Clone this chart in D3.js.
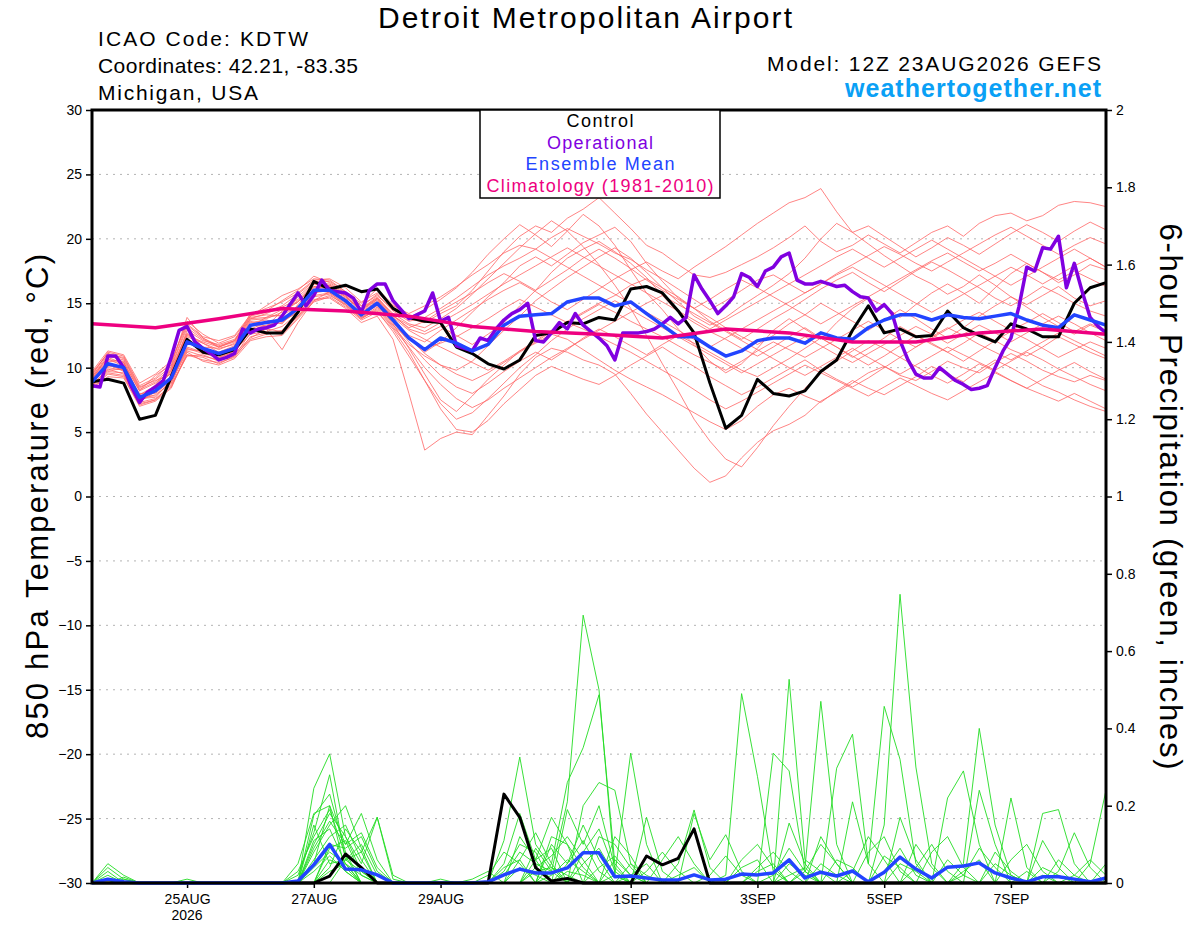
<!DOCTYPE html>
<meta charset="utf-8">
<script src="https://d3js.org/d3.v7.min.js"></script>
<style>
  body { margin: 0; background: #fff; }
  text { font-family: "Liberation Sans", Arial, sans-serif; }
</style>
<svg id="chart" width="1200" height="927"></svg>
<script>

// run start and time steps (6-hourly ensemble, 3-hourly operational)
const runStart = Date.UTC(2026, 7, 23, 12)
const runEnd = Date.UTC(2026, 8, 8, 12)
const tickDays = [[2026,7,25,"25AUG"],[2026,7,27,"27AUG"],[2026,7,29,"29AUG"],[2026,8,1,"1SEP"],
                  [2026,8,3,"3SEP"],[2026,8,5,"5SEP"],[2026,8,7,"7SEP"]]
const tempTicks = [-30,-25,-20,-15,-10,-5,0,5,10,15,20,25,30]
const precipTicks = [0,0.2,0.4,0.6,0.8,1,1.2,1.4,1.6,1.8,2]

// 850 hPa temperature (C)
const controlTemp = [8.9,9.1,8.8,6.0,6.3,9.3,12.2,11.2,11.0,11.4,13.0,12.7,12.7,
  14.3,16.7,16.1,16.4,15.9,16.1,14.6,13.9,13.6,13.5,11.6,11.1,10.3,
  9.9,10.6,12.5,12.7,13.5,13.4,13.9,13.7,16.1,16.3,15.8,14.4,12.7,
  8.8,5.3,6.3,9.1,8.0,7.8,8.2,9.7,10.6,12.9,14.8,12.7,13.0,
  12.4,12.5,14.4,13.1,12.5,12.0,13.4,13.0,12.4,12.4,15.0,16.2,16.6]

const meanTemp = [8.9,10.3,10.0,7.7,8.2,9.2,12.0,11.5,11.1,11.5,13.3,13.5,13.7,
  14.6,16.0,16.0,15.2,14.1,15.0,13.7,12.3,11.4,12.3,11.9,11.3,11.8,
  13.3,14.0,14.1,14.2,15.1,15.4,15.4,14.8,15.1,14.2,13.3,12.4,12.4,
  11.6,10.9,11.3,12.1,12.3,12.3,11.9,12.7,12.3,12.2,13.1,13.7,14.1,
  14.1,13.7,14.1,13.9,13.8,14.0,14.2,13.7,13.3,13.1,14.1,13.7,13.3]

const operationalTemp = [8.6,8.5,10.9,10.9,10.0,8.5,7.3,8.1,8.5,9.0,10.8,12.9,13.2,12.0,11.5,11.1,
  10.6,10.8,11.1,13.0,12.7,13.0,13.1,13.3,14.0,14.9,15.8,14.8,15.6,16.8,16.0,15.9,
  15.8,15.4,14.3,16.0,16.5,16.5,15.2,14.5,13.8,14.1,14.4,15.8,13.6,13.9,11.7,11.5,
  11.3,12.3,12.1,13.0,13.7,14.2,14.5,15.0,12.1,12.0,12.7,13.5,13.0,14.2,13.3,12.8,
  12.3,11.7,10.6,12.7,12.7,12.7,12.8,13.0,13.4,13.9,13.4,13.9,17.2,16.1,15.2,14.2,
  14.8,15.5,17.3,17.0,16.3,17.5,17.8,18.6,18.9,16.8,16.5,16.5,16.7,16.5,16.3,16.4,
  15.9,15.5,15.4,14.4,14.9,14.2,12.1,10.6,9.5,9.2,9.2,10.0,9.5,9.0,8.7,8.3,
  8.4,8.6,10.0,11.3,12.3,14.7,17.8,17.5,19.3,19.2,20.2,16.2,18.1,15.9,13.9,13.2,
  12.7]

// daily climatology at 12Z
const climoTemp = [13.4,13.1,13.8,14.6,14.4,14.0,13.2,12.8,12.6,12.3,13.0,12.7,12.0,12.0,12.7,13.0,12.6]

const memberTemps = [
 [9.4,11.2,10.9,8.6,9.2,10.4,13.6,12.6,11.9,12.4,14.0,14.8,15.6,16.1,16.9,16.8,
  15.9,14.8,15.6,14.5,13.8,13.5,14.2,14.8,16.0,17.5,19.0,20.2,21.0,20.5,21.6,22.3,
  23.2,22.0,20.8,19.5,18.9,18.0,17.2,17.0,17.4,18.0,18.6,19.3,20.1,21.0,19.8,19.0,
  19.5,20.3,19.6,18.9,19.7,20.5,21.0,20.2,21.2,21.8,22.0,21.4,21.8,22.6,22.9,22.8,22.5],
 [8.5,9.6,9.4,7.3,7.6,8.6,11.0,10.8,10.3,10.9,12.2,12.6,12.9,14.0,15.3,15.4,
  14.6,13.5,14.0,12.2,8.0,3.6,4.5,5.0,4.8,6.3,7.8,9.5,10.8,11.5,11.2,10.6,
  10.2,9.5,8.0,6.4,5.0,3.6,2.2,1.1,1.6,3.0,4.2,5.1,5.6,6.3,7.4,8.1,
  8.8,9.6,10.1,9.4,9.0,9.7,10.5,10.0,9.6,10.4,11.1,10.5,9.8,9.3,8.9,9.4,9.0],
 [9.6,11.1,10.4,8.2,9.4,10.2,13.9,12.3,11.6,12.1,14.2,14.4,15.2,16.0,17.1,16.6,
  15.8,15.0,16.1,14.9,13.9,14.5,15.3,16.2,17.4,18.8,20.0,21.1,20.3,19.4,20.6,21.9,
  21.0,19.5,17.6,15.8,14.5,13.0,11.8,10.5,9.6,10.3,11.5,12.9,13.8,13.0,12.2,13.5,
  14.6,15.4,14.8,13.9,14.9,15.8,16.5,15.8,15.0,16.2,17.3,18.1,17.4,16.6,17.2,18.0,17.6],
 [8.7,9.8,9.9,7.8,7.8,8.9,11.4,11.3,11.0,11.3,12.6,12.8,13.2,14.2,15.6,15.8,
  14.9,13.8,14.6,13.2,11.8,10.9,10.2,9.8,10.5,11.7,12.9,14.0,15.2,16.1,17.0,17.8,
  18.6,19.3,18.5,17.4,16.2,15.1,14.0,13.3,13.9,14.8,15.6,16.4,17.3,18.5,20.0,21.2,
  20.5,19.6,18.7,17.9,17.1,16.5,15.7,16.3,17.2,16.4,15.5,14.9,15.6,16.3,15.4,14.8,15.2],
 [9.1,10.6,10.5,7.5,8.7,9.9,12.7,11.6,11.5,11.8,13.6,13.2,14.4,15.2,16.2,16.3,
  15.5,14.4,15.3,13.8,12.4,11.2,12.0,13.1,14.3,15.5,16.6,17.9,18.6,17.9,18.8,19.7,
  20.3,20.9,19.8,18.1,16.7,15.4,14.6,13.9,13.1,12.4,11.8,12.5,13.4,14.1,15.0,14.3,
  13.6,12.9,13.7,14.5,13.8,13.0,12.3,13.1,14.0,14.8,15.5,14.7,13.9,13.2,12.6,13.3,12.8],
 [8.6,9.9,9.5,7.2,7.5,8.7,10.9,11.0,10.5,11.1,12.3,13.0,11.4,13.5,15.2,15.9,
  15.1,14.0,14.9,13.4,11.5,9.5,7.5,6.6,7.8,9.1,10.2,11.3,11.9,12.6,12.2,11.4,
  10.6,9.8,9.1,8.5,7.9,7.2,6.5,5.8,5.2,5.9,7.0,7.9,8.4,7.8,7.3,8.2,
  9.0,8.4,7.9,8.6,9.3,10.1,9.5,8.9,9.8,10.6,10.0,9.3,8.6,8.1,7.5,7.0,6.6],
 [9.3,11.0,10.8,8.5,9.0,9.5,12.9,12.1,11.8,12.2,13.9,14.1,14.0,15.5,16.6,16.2,
  15.4,14.6,15.5,14.1,13.0,12.6,13.2,12.5,11.8,12.6,13.5,14.8,16.0,17.4,18.5,19.2,
  19.8,19.0,18.1,17.0,15.6,14.3,13.5,12.8,12.2,11.5,10.9,11.6,12.4,13.1,12.3,11.6,
  10.8,11.5,12.3,13.2,12.5,11.8,11.2,11.9,12.7,12.1,11.4,10.9,11.6,12.4,11.8,11.2,10.7],
 [8.9,10.2,9.8,7.9,8.4,9.6,12.4,11.9,11.2,11.7,13.5,13.7,13.4,14.9,16.3,16.1,
  15.3,14.2,15.1,13.6,12.5,12.0,12.9,13.7,14.5,15.3,16.0,16.6,15.9,15.1,14.5,15.3,
  16.1,16.9,17.6,18.2,17.5,16.9,17.8,18.6,19.4,20.3,21.2,22.0,22.8,23.2,23.9,22.1,
  20.5,21.0,20.2,19.4,18.6,19.3,20.1,19.5,18.8,19.6,20.4,21.1,20.5,19.8,20.6,21.3,20.7],
 [9.2,10.7,10.1,7.4,8.1,9.8,12.0,11.4,10.8,11.4,13.2,13.9,14.1,14.7,16.0,16.4,
  15.6,14.3,15.2,13.9,12.9,12.2,11.6,11.0,10.4,9.8,10.5,11.3,12.1,12.9,13.6,14.3,
  15.0,15.6,16.4,16.9,16.2,15.5,14.6,13.6,12.9,12.2,13.0,13.8,14.5,15.3,16.1,16.8,
  17.4,16.6,15.9,16.7,17.5,18.2,17.6,16.9,16.2,15.4,14.8,15.5,16.3,15.7,15.0,14.4,14.0],
 [8.4,9.3,9.2,7.0,7.4,8.4,11.2,10.5,10.2,10.7,12.1,12.4,12.5,13.8,15.1,15.5,
  14.7,13.7,14.3,13.0,11.2,9.0,6.8,5.2,5.0,5.9,7.2,8.3,9.4,10.1,9.6,9.1,
  8.7,9.4,10.2,10.9,11.6,10.8,10.1,9.3,8.6,7.9,8.5,9.2,9.9,10.6,9.8,9.1,
  8.5,9.2,10.0,10.8,10.1,9.4,8.8,9.5,10.3,9.7,9.0,8.4,9.1,9.8,10.4,9.7,9.1],
 [9.7,11.3,11.0,8.8,9.5,10.5,13.4,12.4,12.1,12.5,14.1,14.6,15.1,15.8,16.8,16.9,
  16.2,15.1,15.8,14.8,14.2,14.8,15.5,16.3,17.2,18.0,18.9,19.5,19.2,20.1,20.8,20.2,
  19.6,18.9,18.4,17.6,16.9,16.1,15.3,14.5,15.2,16.0,16.8,17.2,16.5,15.8,16.5,17.3,
  18.0,18.7,19.4,18.8,18.1,17.5,18.2,18.9,19.6,20.3,20.9,20.2,19.5,18.8,19.5,20.1,19.6],
 [9.0,10.1,10.2,7.6,8.5,9.2,12.1,11.5,11.1,11.6,13.0,13.5,13.6,14.3,15.8,16.0,
  15.2,14.1,14.8,13.5,12.0,10.6,9.4,8.5,8.0,8.8,9.7,10.5,11.2,10.6,11.4,12.3,
  13.0,12.4,11.7,11.0,11.8,12.5,11.9,11.2,10.5,9.8,9.3,10.0,10.7,11.5,12.3,11.6,
  10.9,10.2,10.9,11.7,12.5,11.9,11.2,10.5,11.3,12.1,12.8,12.2,11.5,10.8,11.4,12.0,11.5],
 [8.8,10.4,9.7,8.0,8.0,9.0,11.6,11.2,10.7,11.3,13.3,13.2,13.8,14.8,16.1,15.8,
  15.0,13.9,14.7,13.3,12.2,11.5,11.9,12.4,13.1,13.8,14.6,15.3,14.7,14.1,13.5,14.2,
  14.9,14.3,13.6,13.0,12.4,11.7,11.0,10.4,9.8,10.5,11.3,12.0,11.4,10.8,11.5,12.2,
  12.9,13.6,12.9,12.2,11.6,12.3,13.0,13.7,14.3,13.6,12.9,13.5,14.2,13.5,12.8,13.4,12.9],
 [9.1,10.9,10.6,8.3,8.9,10.0,13.1,12.2,11.6,12.0,13.8,14.2,14.7,15.3,16.5,16.5,
  15.7,14.6,15.4,14.2,13.4,13.1,13.8,14.6,15.7,16.9,18.1,19.3,20.4,21.4,20.6,19.4,
  18.0,16.4,14.6,12.5,10.3,8.2,6.0,4.3,2.9,2.3,3.8,5.5,7.0,8.4,9.6,10.5,
  11.3,12.1,11.5,10.8,11.6,12.4,13.1,12.5,11.8,11.2,10.6,11.3,12.0,12.7,12.1,11.5,10.9],
 [8.6,9.7,9.6,7.5,7.9,8.8,11.3,10.9,10.6,10.9,12.7,13.0,12.8,14.0,15.5,15.7,
  14.8,13.8,14.5,13.1,11.6,10.0,8.7,7.6,6.9,7.5,8.4,9.2,10.0,10.8,11.5,12.2,
  12.9,13.6,14.3,15.0,15.6,14.9,14.2,13.5,12.8,12.1,11.4,10.7,10.0,9.4,10.1,10.8,
  11.5,10.8,10.1,9.5,10.2,10.9,11.6,11.0,10.4,9.8,10.5,11.2,10.6,9.9,9.3,8.7,8.2],
 [9.3,10.8,10.3,7.9,8.6,9.7,12.6,11.9,11.4,11.9,13.7,13.8,14.3,15.1,16.3,16.4,
  15.6,14.5,15.4,14.0,13.1,13.6,14.4,15.1,15.8,16.6,17.3,16.7,16.0,16.8,17.6,18.5,
  19.2,18.5,17.7,16.8,16.0,15.3,14.6,15.3,16.1,16.8,16.2,15.5,14.8,14.1,13.4,14.1,
  14.8,15.5,16.2,16.9,17.6,18.3,18.9,18.2,17.5,18.1,18.8,18.1,17.4,16.8,17.5,16.9,16.3],
 [8.8,10.0,9.8,7.6,7.7,9.0,11.5,11.1,10.8,11.2,12.9,13.3,13.5,14.4,15.9,16.1,
  15.3,14.2,15.0,13.6,12.3,11.1,10.2,9.5,9.0,9.6,10.4,11.2,12.0,12.8,13.5,13.0,
  12.4,11.8,11.2,10.5,9.8,9.1,8.3,7.5,6.8,7.4,8.1,8.8,9.5,10.2,9.6,9.0,
  8.4,7.8,8.5,9.2,8.6,8.0,7.5,8.2,8.9,9.6,9.0,8.4,7.9,7.4,8.0,7.4,6.8],
 [9.5,11.1,10.7,8.4,9.1,10.1,13.3,12.3,11.7,12.1,14.0,14.3,14.8,15.7,16.7,16.7,
  15.9,14.8,15.7,14.4,13.6,13.9,14.6,15.4,16.3,17.2,17.9,18.5,19.2,18.5,17.8,17.1,
  16.4,15.7,15.0,14.3,13.6,12.9,12.2,11.6,12.3,13.0,13.7,14.4,15.1,15.8,16.5,17.2,
  17.8,17.1,16.4,15.7,15.0,14.3,15.0,15.7,16.4,17.1,17.8,17.2,16.5,17.2,17.9,18.5,17.8],
 [8.4,9.5,9.3,7.1,7.5,8.5,11.0,10.6,10.4,10.8,12.4,12.7,12.6,13.9,15.2,15.6,
  14.9,13.9,14.4,12.8,10.9,9.0,7.2,6.0,6.5,7.6,8.8,10.0,11.0,12.1,13.0,13.8,
  14.5,15.2,14.5,13.8,13.1,12.4,11.7,11.0,10.3,9.6,10.3,11.0,11.7,12.4,11.7,11.0,
  10.4,11.1,11.8,12.5,13.2,12.6,11.9,12.6,13.3,12.7,12.0,12.7,13.4,14.0,13.4,12.7,12.1],
 [9.0,10.5,10.4,8.2,8.8,9.8,12.5,12.0,11.6,12.1,13.8,13.9,14.5,15.1,16.5,16.3,
  15.5,14.5,15.3,14.0,13.3,12.8,13.5,14.2,14.9,15.7,16.5,17.2,17.9,18.6,19.3,18.6,
  17.9,17.2,16.5,15.8,15.1,14.4,13.7,13.0,13.7,14.4,15.1,15.8,16.5,17.2,17.9,18.6,
  19.2,18.5,17.8,18.5,19.2,19.9,19.2,18.5,17.8,17.1,16.4,17.1,17.8,18.5,19.2,18.5,17.8]
]

// 6-hour precipitation (inches)
const controlPrecip = [0,0,0,0,0,0,0,0,0,0,0,0,0,
  0,0,0.018,0.075,0.04,0,0,0,0,0,0,0,0,
  0.23,0.17,0.04,0.005,0.012,0,0,0,0,0.07,0.047,0.064,0.14,
  0,0,0,0,0,0,0,0,0,0,0,0,0,
  0,0,0,0,0,0,0,0,0,0,0,0,0]

const meanPrecip = [0,0.01,0.003,0,0,0,0,0,0,0,0,0,0,
  0.005,0.047,0.1,0.036,0.034,0.021,0,0,0,0,0,0,0.003,
  0.021,0.036,0.026,0.026,0.039,0.078,0.078,0.016,0.018,0.013,0.008,0.008,0.021,
  0.008,0.01,0.023,0.021,0.026,0.06,0.013,0.028,0.018,0.031,0.003,0.028,0.067,
  0.036,0.013,0.041,0.044,0.052,0.026,0.013,0.003,0.016,0.016,0.01,0.003,0.013]

const memberPrecips = [
 [0,0.05,0.02,0,0,0,0,0,0,0,0,0,0, 0,0.245,0.334,0.12,0.03,0,0,0,0,0,0,0,0,
  0.02,0.08,0.05,0.03,0.21,0.693,0.5,0.02,0,0,0,0,0, 0,0,0,0.03,0.05,0,0,0,0,0,0,0.15,0.747,
  0.3,0.05,0,0,0,0,0,0,0.02,0,0,0,0],
 [0,0.03,0,0,0,0,0,0,0,0,0,0,0, 0,0.175,0.23,0.08,0,0,0,0,0,0,0,0,0,
  0.11,0.326,0.1,0.04,0,0,0,0,0.02,0.05,0,0,0, 0,0.02,0.49,0.276,0.03,0,0,0,0,0,0,0,0,
  0,0,0,0.05,0.4,0.15,0.02,0,0,0,0,0,0],
 [0,0,0,0,0,0,0,0,0,0,0,0,0, 0.05,0.18,0.2,0.1,0.18,0.06,0,0,0,0,0,0,0,
  0,0,0,0.05,0.26,0.35,0.487,0.05,0,0,0,0,0, 0,0,0,0,0.336,0.29,0.03,0,0,0,0,0,0,
  0,0,0,0,0,0,0,0,0,0.03,0.13,0.04,0],
 [0,0,0.01,0,0,0,0,0,0,0,0,0,0, 0,0.1,0.18,0.12,0.05,0.17,0.01,0,0,0,0,0,0,
  0,0,0.06,0.17,0.1,0,0,0.02,0.336,0.1,0,0,0, 0,0,0,0,0,0.527,0.06,0.03,0,0,0,0,0,
  0,0,0,0,0,0,0.22,0.04,0,0,0,0,0],
 [0,0,0,0,0,0,0,0,0,0,0,0,0, 0,0.08,0.15,0.2,0.09,0,0,0,0,0,0,0,0,
  0,0.12,0.06,0.09,0,0.2,0.26,0.24,0.05,0,0,0,0, 0,0,0,0,0,0,0.04,0.47,0.1,0,0,0,0,
  0,0,0,0,0,0,0,0,0,0,0,0.05,0.24],
 [0,0,0,0,0,0,0,0,0,0,0,0,0, 0.02,0.13,0.28,0.06,0.03,0,0,0,0,0,0,0,0.02,
  0.08,0.05,0,0,0.19,0.1,0.2,0.04,0,0,0,0,0.18, 0.06,0.125,0.03,0,0,0,0,0,0.297,0.385,0.05,0,0,
  0,0,0.22,0.29,0.1,0,0,0,0,0,0,0,0],
 [0,0,0,0,0,0,0,0,0,0,0,0,0, 0,0.06,0.12,0.15,0.06,0,0,0,0,0,0,0,0,
  0,0,0.04,0.07,0.12,0.06,0,0,0,0.17,0.03,0,0, 0,0,0,0,0,0,0,0,0,0.21,0.05,0.457,0.32,
  0.05,0,0,0,0,0,0,0,0.18,0.19,0.05,0,0],
 [0,0,0,0,0,0,0,0,0,0,0,0,0, 0,0,0.1,0.09,0.12,0.03,0,0,0,0,0,0,0,
  0.03,0.1,0.08,0,0,0,0,0.12,0.07,0,0,0.05,0.189, 0.04,0,0,0,0,0.155,0.05,0,0,0,0,0,0.17,
  0.06,0,0,0,0.24,0.1,0,0,0.11,0.04,0,0,0],
 [0,0.02,0,0,0,0,0,0,0,0,0,0,0, 0,0.04,0.08,0.05,0,0,0,0,0,0.01,0,0,0,
  0,0,0,0.1,0.05,0.15,0.06,0,0,0,0.06,0.12,0.05, 0,0,0,0,0,0,0,0.12,0.05,0,0,0,0,
  0,0.08,0.12,0.04,0,0,0,0,0,0,0,0,0.05],
 [0,0,0,0,0,0,0,0,0,0,0,0,0, 0,0.15,0.05,0.06,0.1,0.02,0,0,0,0,0,0,0,
  0,0.06,0.13,0.05,0,0,0.12,0.1,0.04,0,0,0,0, 0,0,0.06,0.1,0.04,0,0,0,0,0,0.08,0.12,0.03,
  0,0,0,0,0,0,0.06,0.1,0.03,0,0,0,0],
 [0,0,0,0,0,0,0,0,0,0,0,0,0, 0,0,0.06,0.04,0,0,0,0,0,0,0,0,0,
  0,0,0.03,0.04,0.02,0,0,0,0,0.03,0.08,0.03,0, 0,0,0,0,0,0.05,0.02,0,0,0,0,0,0,
  0.1,0.04,0,0,0,0.05,0.02,0,0,0,0,0,0],
 [0,0,0,0,0,0,0,0,0,0,0,0,0, 0.03,0.12,0.19,0.07,0,0,0,0,0,0,0,0,0,
  0.05,0.18,0.06,0,0,0.08,0.14,0.03,0,0,0,0,0, 0,0,0,0.04,0.08,0.03,0,0,0,0,0,0,0,
  0,0,0,0.02,0.09,0.04,0,0,0,0,0,0,0],
 [0,0,0.015,0,0,0,0,0,0,0,0,0,0, 0,0,0.04,0.14,0.08,0,0,0,0,0,0,0,0,
  0,0,0,0,0.05,0.11,0.03,0,0,0,0,0,0, 0.02,0.07,0.02,0,0,0,0,0,0.06,0.04,0,0,0,
  0,0,0,0,0,0,0,0,0,0.06,0.02,0,0],
 [0,0,0,0,0,0,0,0,0,0,0,0,0, 0,0.09,0.16,0.1,0.13,0.04,0,0,0,0,0,0.01,0.03,
  0,0,0,0.12,0.1,0.04,0,0,0,0,0,0,0, 0,0,0,0,0,0,0.03,0.1,0.05,0,0,0.07,0.04,
  0,0,0,0,0,0,0,0.03,0,0,0,0,0],
 [0,0,0,0,0,0,0,0,0,0,0,0,0, 0,0.05,0.2,0.03,0,0,0,0,0,0,0,0,0,
  0,0.04,0.02,0,0,0,0,0.06,0.02,0,0,0,0, 0,0,0,0,0.02,0.09,0.03,0,0,0,0,0,0,
  0.04,0.1,0.03,0,0,0,0,0,0,0,0,0,0],
 [0,0,0,0,0,0,0,0,0,0,0,0,0, 0,0,0,0.06,0.08,0.17,0.02,0,0,0,0,0,0,
  0,0,0,0,0,0.05,0.09,0.02,0,0,0,0,0, 0,0,0,0,0,0,0,0,0,0.03,0.12,0.06,0,
  0,0,0,0.03,0.06,0,0,0,0,0,0,0,0],
 [0,0.04,0.01,0,0,0,0,0,0,0,0,0,0, 0,0.03,0.07,0.03,0,0,0,0,0,0,0,0,0,
  0,0,0,0.02,0.06,0.03,0,0,0,0,0,0.02,0.04, 0,0,0,0,0,0,0,0,0,0,0,0.03,0.09,
  0.02,0,0,0,0,0,0,0,0,0,0.02,0.06,0.02],
 [0,0,0,0,0,0,0,0,0,0,0,0,0, 0,0.11,0.14,0.05,0,0,0,0,0,0,0,0,0,
  0.04,0.06,0,0,0,0,0.04,0.07,0.02,0,0,0,0, 0,0,0,0,0,0,0,0.05,0.02,0,0,0,0,
  0,0,0.06,0.02,0,0,0,0,0,0,0,0,0],
 [0,0,0,0,0,0,0.01,0,0,0,0,0,0, 0,0,0.09,0.11,0.02,0,0,0,0,0,0,0,0,
  0,0,0.09,0.03,0,0,0,0,0.05,0.02,0,0,0, 0,0,0.04,0.06,0,0,0,0,0,0,0,0,0,
  0,0,0,0,0,0.08,0.03,0,0,0,0,0,0],
 [0,0,0,0,0,0,0,0,0,0,0,0,0, 0,0,0.03,0.05,0.02,0,0,0,0,0,0,0,0,
  0,0,0,0,0.03,0.02,0,0,0,0,0,0,0, 0,0,0,0,0,0.02,0.04,0,0,0,0,0,0.05,
  0.03,0,0,0,0,0,0,0,0.04,0.02,0,0,0]
]

const svg = d3.select("#chart")
const margin = {left: 92, right: 94, top: 110, bottom: 44}
const width = +svg.attr("width"), height = +svg.attr("height")

const x = d3.scaleUtc()
    .domain([runStart, runEnd])
    .range([margin.left, width - margin.right])
const yT = d3.scaleLinear().domain([-30, 30]).range([height - margin.bottom, margin.top])
const yP = d3.scaleLinear().domain([0, 2]).range([height - margin.bottom, margin.top])

const HOUR = 3600 * 1000
const at6 = i => runStart + i * 6 * HOUR
const at3 = i => runStart + i * 3 * HOUR
const atDay = i => runStart + i * 24 * HOUR

// grid
svg.append("g")
  .selectAll("line")
  .data(tempTicks.slice(1, -1))
  .join("line")
    .attr("x1", margin.left).attr("x2", width - margin.right)
    .attr("y1", d => yT(d)).attr("y2", d => yT(d))
    .attr("stroke", "#b4b4b4")
    .attr("stroke-dasharray", "2,5")

// axes
const axL = svg.append("g")
  .attr("transform", `translate(${margin.left},0)`)
  .call(d3.axisLeft(yT).tickValues(tempTicks).tickSize(6).tickPadding(4).tickFormat(d3.format("d")))
const axR = svg.append("g")
  .attr("transform", `translate(${width - margin.right},0)`)
  .call(d3.axisRight(yP).tickValues(precipTicks).tickSize(6).tickPadding(4).tickFormat(d => d3.format("~g")(d)))
const axB = svg.append("g")
  .attr("transform", `translate(0,${height - margin.bottom})`)
  .call(d3.axisBottom(x)
    .tickValues(tickDays.map(d => Date.UTC(d[0], d[1], d[2])))
    .tickFormat((d, i) => tickDays[i][3])
    .tickSize(5).tickPadding(6))
;[axL, axR, axB].forEach(a => {
  a.select(".domain").remove()
  a.selectAll(".tick line").attr("stroke", "#000").attr("stroke-width", 1.5)
  a.selectAll("text").attr("font-size", 14).attr("fill", "#000")
    .attr("font-family", '"Liberation Sans", Arial, sans-serif')
})
svg.append("text")
  .attr("x", x(Date.UTC(2026, 7, 25))).attr("y", 920)
  .attr("text-anchor", "middle").attr("font-size", 14)
  .text("2026")

// lines
const lineT6 = d3.line().x((d, i) => x(at6(i))).y(d => yT(d))
const lineT3 = d3.line().x((d, i) => x(at3(i))).y(d => yT(d))
const lineTd = d3.line().x((d, i) => x(atDay(i))).y(d => yT(d))
const lineP6 = d3.line().x((d, i) => x(at6(i))).y(d => yP(d))

const plot = svg.append("g").attr("fill", "none").attr("stroke-linejoin", "round")

plot.selectAll(".member-t")
  .data(memberTemps)
  .join("path")
    .attr("d", lineT6)
    .attr("stroke", "#ff6464")
    .attr("stroke-width", 0.8)

plot.selectAll(".member-p")
  .data(memberPrecips)
  .join("path")
    .attr("d", lineP6)
    .attr("stroke", "#22dd22")
    .attr("stroke-width", 0.9)

plot.append("path").attr("d", lineP6(controlPrecip)).attr("stroke", "#000").attr("stroke-width", 3)
plot.append("path").attr("d", lineP6(meanPrecip)).attr("stroke", "#2244ff").attr("stroke-width", 3.5)

plot.append("path").attr("d", lineT6(controlTemp)).attr("stroke", "#000").attr("stroke-width", 3)
plot.append("path").attr("d", lineT3(operationalTemp)).attr("stroke", "#8000e0").attr("stroke-width", 3.5)
plot.append("path").attr("d", lineT6(meanTemp)).attr("stroke", "#2244ff").attr("stroke-width", 3.5)
plot.append("path").attr("d", lineTd(climoTemp)).attr("stroke", "#ee0080").attr("stroke-width", 3.5)

// frame
svg.append("rect")
  .attr("x", margin.left).attr("y", margin.top)
  .attr("width", width - margin.left - margin.right)
  .attr("height", height - margin.top - margin.bottom)
  .attr("fill", "none").attr("stroke", "#000").attr("stroke-width", 3)

// legend
const legend = [["Control", "#000", 67], ["Operational", "#8000e0", 106],
                ["Ensemble Mean", "#2244ff", 149], ["Climatology (1981-2010)", "#ee0080", 227]]
svg.append("rect")
  .attr("x", 480).attr("y", 110).attr("width", 240).attr("height", 88)
  .attr("fill", "#fff").attr("stroke", "#000").attr("stroke-width", 1.5)
svg.selectAll(".leg")
  .data(legend)
  .join("text")
    .attr("x", 600).attr("y", (d, i) => 127 + i * 21.5)
    .attr("text-anchor", "middle").attr("font-size", 18)
    .attr("textLength", d => d[2]).attr("lengthAdjust", "spacing")
    .attr("fill", d => d[1])
    .text(d => d[0])

// titles
svg.append("text").attr("x", 585).attr("y", 28).attr("text-anchor", "middle")
  .attr("font-size", 30).attr("textLength", 414).attr("lengthAdjust", "spacing")
  .text("Detroit Metropolitan Airport")
const info = [["ICAO Code: KDTW", 210], ["Coordinates: 42.21, -83.35", 260], ["Michigan, USA", 160]]
svg.selectAll(".info").data(info).join("text")
  .attr("x", 98).attr("y", (d, i) => 46 + i * 27).attr("font-size", 21)
  .attr("textLength", d => d[1]).attr("lengthAdjust", "spacing")
  .text(d => d[0])
svg.append("text").attr("x", 1101).attr("y", 71).attr("text-anchor", "end")
  .attr("font-size", 21).attr("textLength", 334).attr("lengthAdjust", "spacing")
  .text("Model: 12Z 23AUG2026 GEFS")
svg.append("text").attr("x", 1101).attr("y", 97).attr("text-anchor", "end")
  .attr("font-size", 25).attr("font-weight", "bold").attr("fill", "#0aa0f5")
  .attr("textLength", 256).attr("lengthAdjust", "spacing")
  .text("weathertogether.net")

svg.append("text")
  .attr("transform", `translate(48,${(margin.top + height - margin.bottom) / 2}) rotate(-90)`)
  .attr("text-anchor", "middle").attr("font-size", 31)
  .attr("textLength", 485).attr("lengthAdjust", "spacing")
  .text("850 hPa Temperature (red, °C)")
svg.append("text")
  .attr("transform", `translate(1160,${(margin.top + height - margin.bottom) / 2}) rotate(90)`)
  .attr("text-anchor", "middle").attr("font-size", 31)
  .attr("textLength", 546).attr("lengthAdjust", "spacing")
  .text("6-hour Precipitation (green, inches)")

// sanity check on series lengths
const bad = [controlTemp, meanTemp, controlPrecip, meanPrecip, ...memberTemps, ...memberPrecips]
  .map((a, k) => a.length !== 65 ? k + ":" + a.length : null).filter(Boolean)
if (operationalTemp.length !== 129) bad.push("op:" + operationalTemp.length)
if (bad.length) svg.append("text").attr("x", 100).attr("y", 700).attr("fill", "red").text("LEN " + bad.join(" "))

</script>
